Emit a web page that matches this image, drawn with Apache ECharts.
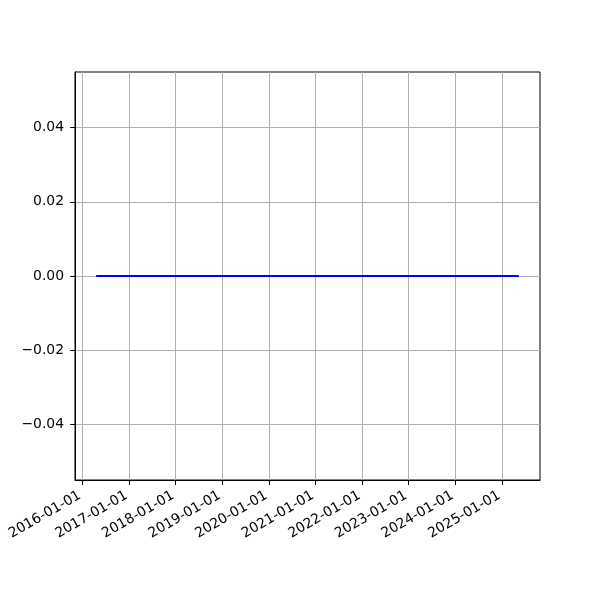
<!DOCTYPE html>
<html><head><meta charset="utf-8">
<script src="https://cdn.jsdelivr.net/npm/echarts@6/dist/echarts.min.js"></script>
<style>html,body{margin:0;padding:0;background:#fff}#c{width:600px;height:600px}</style>
</head><body><div id="c"></div>
<script>
const dates = ['2016-04-17', '2025-05-14'];
const values = [0, 0];
const xTickLabels = ['2016-01-01','2017-01-01','2018-01-01','2019-01-01','2020-01-01','2021-01-01','2022-01-01','2023-01-01','2024-01-01','2025-01-01'];
const yTicks = [-0.04, -0.02, 0.00, 0.02, 0.04];

const t = s => Date.parse(s + 'T00:00:00Z');
const t0 = t(dates[0]), t1 = t(dates[dates.length - 1]);
const span = t1 - t0;
const xMin = t0 - 0.05 * span, xMax = t1 + 0.05 * span;
const xTickVals = xTickLabels.map(t);
const fmtY = v => v.toFixed(2).replace('-', '\u2212');
const font = {fontFamily: 'DejaVu Sans', fontSize: 13.9, color: '#000'};

const chart = echarts.init(document.getElementById('c'), null, {renderer: 'canvas'});
chart.setOption({
  animation: false,
  grid: {left: 75, right: 60, top: 72, bottom: 120, show: true, borderColor: '#000', borderWidth: 1, backgroundColor: 'transparent'},
  xAxis: {
    type: 'value', min: xMin, max: xMax,
    axisLine: {show: true, onZero: false, lineStyle: {color: '#000', width: 1}},
    axisTick: {show: true, length: 5, lineStyle: {color: '#000'}, customValues: xTickVals},
    axisLabel: {show: true, ...font, rotate: 30, margin: 13, padding: [0, 3, 0, 0], customValues: xTickVals,
      formatter: v => { const d = new Date(v); return d.toISOString().slice(0, 10); }},
    splitLine: {show: true, lineStyle: {color: '#b0b0b0', width: 1}, customValues: xTickVals}
  },
  yAxis: {
    type: 'value', min: -0.055, max: 0.055,
    axisLine: {show: true, onZero: false, lineStyle: {color: '#000', width: 1}},
    axisTick: {show: true, length: 5, lineStyle: {color: '#000'}, customValues: yTicks},
    axisLabel: {show: true, ...font, margin: 11, customValues: yTicks, formatter: v => fmtY(v)},
    splitLine: {show: true, lineStyle: {color: '#b0b0b0', width: 1}, customValues: yTicks}
  },
  series: [{
    type: 'line', data: dates.map((d, i) => [t(d), values[i]]),
    showSymbol: false, symbol: 'none',
    lineStyle: {color: '#0000ff', width: 2}, z: 5
  }]
});
</script></body></html>
